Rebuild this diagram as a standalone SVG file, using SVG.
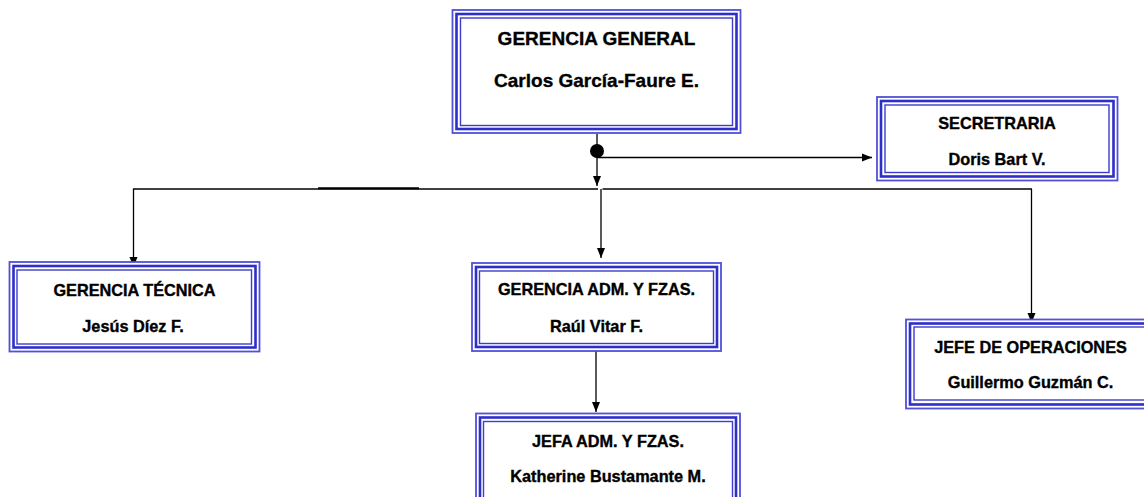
<svg xmlns="http://www.w3.org/2000/svg" width="1144" height="497" viewBox="0 0 1144 497">
  <style>
    .o { fill: none; stroke: #5050d8; stroke-width: 1.8; }
    .m { fill: none; stroke: #2e2ec8; stroke-width: 2.6; }
    .i { fill: none; stroke: #3c3cd0; stroke-width: 1.4; }
    .bg { fill: #ffffff; }
    text { font-family: "Liberation Sans", Arial, sans-serif; font-weight: bold; fill: #000; stroke: #000; stroke-width: 0.35; text-anchor: middle; }
    .big { font-size: 19px; }
    .sm { font-size: 16.3px; }
    .c { fill: none; stroke: #000; stroke-width: 1.3; }
  </style>
  <defs>
    <marker id="ah" markerUnits="userSpaceOnUse" markerWidth="10" markerHeight="10" viewBox="0 0 10 10" refX="10" refY="5" orient="auto">
      <path d="M0,1 L10,5 L0,9 Z" fill="#000"/>
    </marker>
  </defs>
  <rect width="1144" height="497" fill="#fff"/>

  <g id="connectors">
    <line class="c" x1="597" y1="133.5" x2="597" y2="151"/>
    <circle cx="597" cy="151" r="7" fill="#000"/>
    <line class="c" x1="597" y1="151" x2="597" y2="186" marker-end="url(#ah)"/>
    <line class="c" x1="597" y1="157.5" x2="872" y2="157.5" marker-end="url(#ah)"/>
    <line class="c" x1="133" y1="189" x2="598" y2="189"/>
    <line class="c" x1="602.5" y1="189" x2="1032" y2="189"/>
    <line x1="318" y1="188.3" x2="419" y2="188.3" stroke="#000" stroke-width="2"/>
    <line class="c" x1="133.5" y1="189" x2="133.5" y2="267" marker-end="url(#ah)"/>
    <line class="c" x1="601" y1="189" x2="601" y2="258" marker-end="url(#ah)"/>
    <line class="c" x1="1031.5" y1="189" x2="1031.5" y2="323" marker-end="url(#ah)"/>
    <line class="c" x1="596" y1="351" x2="596" y2="412" marker-end="url(#ah)"/>
  </g>

  <g id="gerencia-general">
    <rect class="bg" x="452" y="9.5" width="289" height="124"/>
    <rect class="o" x="452.5" y="10" width="288" height="123"/>
    <rect class="m" x="456.5" y="14" width="280" height="115"/>
    <rect class="i" x="460.5" y="18" width="272" height="107.5"/>
    <text class="big" x="596.5" y="45">GERENCIA GENERAL</text>
    <text class="big" x="596.5" y="87">Carlos García-Faure E.</text>
  </g>

  <g id="secretaria">
    <rect class="bg" x="877" y="97" width="241" height="84"/>
    <rect class="o" x="877" y="97" width="240.5" height="83.5"/>
    <rect class="m" x="881" y="101" width="232.5" height="75.5"/>
    <rect class="i" x="885" y="105" width="224" height="67.5"/>
    <text class="sm" x="997" y="128.5">SECRETRARIA</text>
    <text class="sm" x="997" y="165">Doris Bart V.</text>
  </g>

  <g id="gerencia-tecnica">
    <rect class="bg" x="9.5" y="262" width="250" height="90"/>
    <rect class="o" x="9.5" y="262" width="250" height="89.5"/>
    <rect class="m" x="13.5" y="266" width="242" height="81.5"/>
    <rect class="i" x="17" y="270" width="234.5" height="74"/>
    <text class="sm" x="134.5" y="296">GERENCIA TÉCNICA</text>
    <text class="sm" x="133" y="331.5">Jesús Díez F.</text>
  </g>

  <g id="gerencia-adm">
    <rect class="bg" x="472" y="263" width="249" height="88"/>
    <rect class="o" x="472" y="263" width="249" height="88"/>
    <rect class="m" x="476" y="267" width="241" height="80"/>
    <rect class="i" x="479.5" y="271" width="234" height="72.5"/>
    <text class="sm" x="596.5" y="295">GERENCIA ADM. Y FZAS.</text>
    <text class="sm" x="596.5" y="331.5">Raúl Vitar F.</text>
  </g>

  <g id="jefe-operaciones">
    <rect class="bg" x="906" y="319.5" width="248" height="89"/>
    <rect class="o" x="906" y="319.5" width="248" height="89"/>
    <rect class="m" x="910" y="323.5" width="240" height="81"/>
    <rect class="i" x="914" y="327" width="232" height="73"/>
    <text class="sm" x="1030.5" y="353">JEFE DE OPERACIONES</text>
    <text class="sm" x="1030.5" y="387.5">Guillermo Guzmán C.</text>
  </g>

  <g id="jefa-adm">
    <rect class="bg" x="476" y="413.5" width="264" height="95"/>
    <rect class="o" x="476" y="413.5" width="264" height="95"/>
    <rect class="m" x="480" y="417.5" width="256" height="87"/>
    <rect class="i" x="483.5" y="421.5" width="249" height="79"/>
    <text class="sm" x="608" y="446.5">JEFA ADM. Y FZAS.</text>
    <text class="sm" x="608" y="482">Katherine Bustamante M.</text>
  </g>
</svg>
